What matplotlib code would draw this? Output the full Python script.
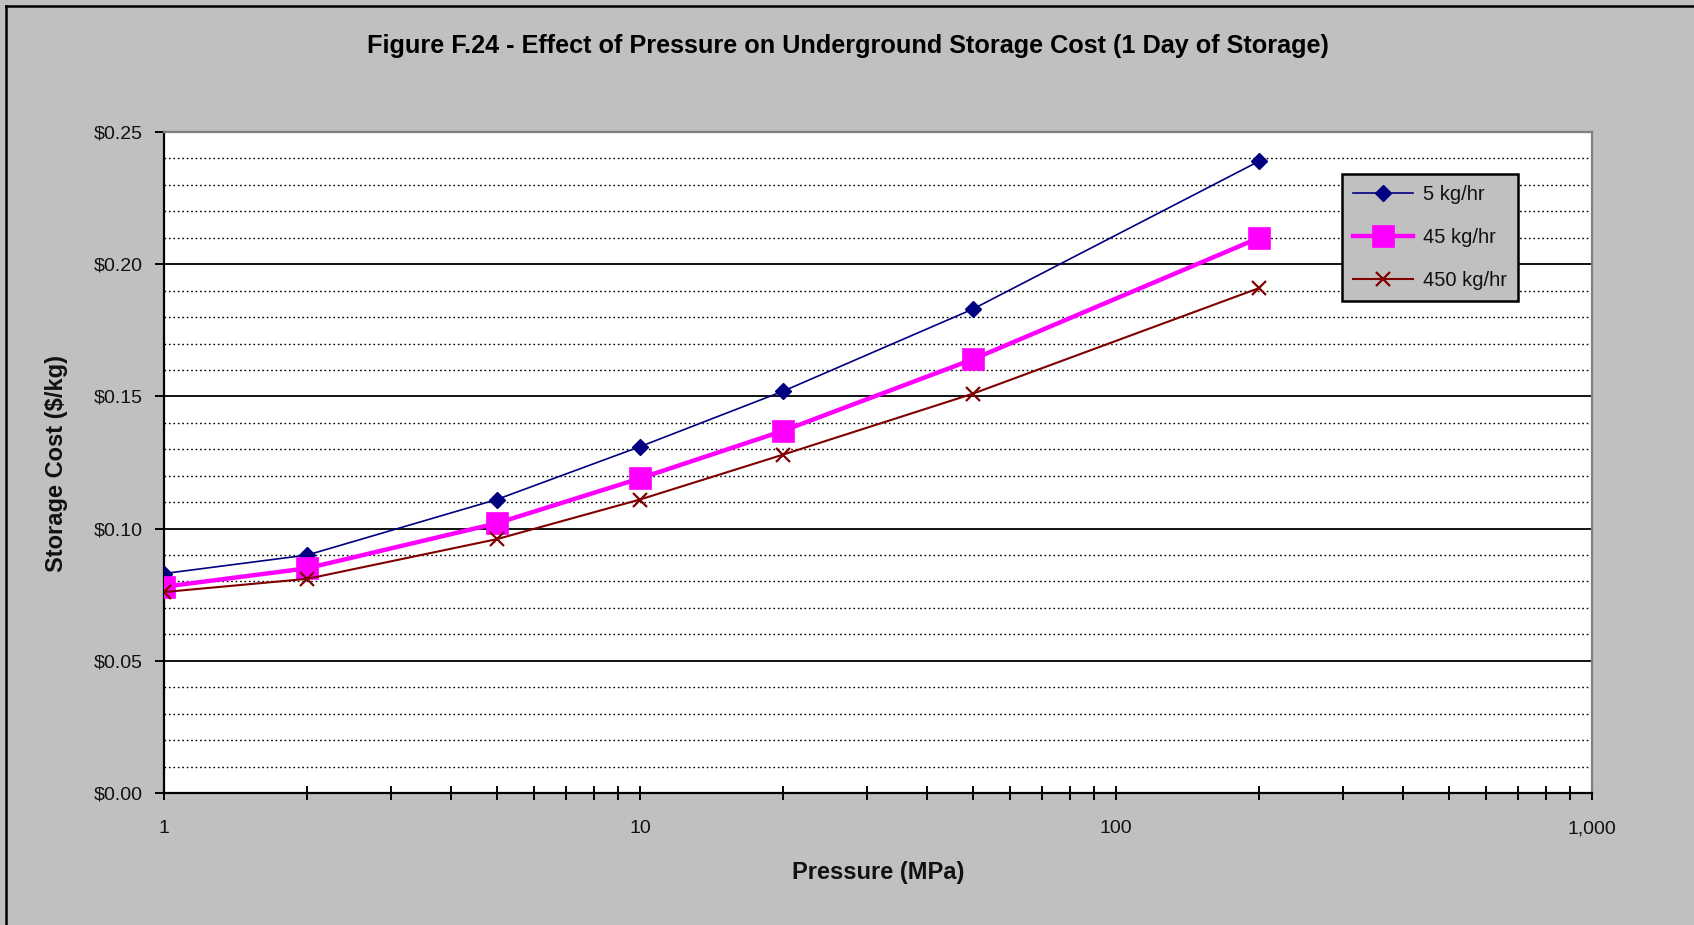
import matplotlib
matplotlib.use("Agg")
import matplotlib.pyplot as plt
from matplotlib.ticker import FixedLocator, MultipleLocator, FuncFormatter, NullFormatter, LogLocator
from matplotlib.lines import Line2D

plt.rcParams['font.family'] = ['Liberation Sans', 'DejaVu Sans']

# ---- data ----
pressure = [1, 2, 5, 10, 20, 50, 200]
cost_5 = [0.083, 0.090, 0.111, 0.131, 0.152, 0.183, 0.239]
cost_45 = [0.078, 0.085, 0.102, 0.119, 0.137, 0.164, 0.210]
cost_450 = [0.076, 0.081, 0.096, 0.111, 0.128, 0.151, 0.191]
series_labels = ["5 kg/hr", "45 kg/hr", "450 kg/hr"]
title = "Figure F.24 - Effect of Pressure on Underground Storage Cost (1 Day of Storage)"
xlabel = "Pressure (MPa)"
ylabel = "Storage Cost ($/kg)"
x_ticks = [1, 10, 100, 1000]
x_ticklabels = ["1", "10", "100", "1,000"]
y_ticks = [0.0, 0.05, 0.10, 0.15, 0.20, 0.25]

W, H = 1694, 925
BG = '#c0c0c0'
fig = plt.figure(figsize=(W / 100, H / 100), dpi=100, facecolor=BG)

L, R, T, B = 164, 1592, 132, 793
ax = fig.add_axes([L / W, 1 - B / H, (R - L) / W, (B - T) / H])
ax.set_facecolor('white')

ax.set_xscale('log')
ax.set_xlim(1, 1000)
ax.set_ylim(0, 0.25)

# grid
ax.yaxis.set_major_locator(FixedLocator(y_ticks))
ax.yaxis.set_minor_locator(MultipleLocator(0.01))
ax.grid(axis='y', which='major', color='black', linewidth=1.3, linestyle='-', zorder=1)
ax.grid(axis='y', which='minor', color='black', linewidth=1.0, linestyle=(0, (1.2, 2.0)), zorder=1)
ax.grid(axis='x', which='both', visible=False)
ax.set_axisbelow(True)

ax.plot(pressure, cost_5, color='#000080', linewidth=1.2, marker='D', markersize=8.5,
        markerfacecolor='#000080', markeredgecolor='#000080', label=series_labels[0], zorder=3)
ax.plot(pressure, cost_45, color='#ff00ff', linewidth=3.2, marker='s', markersize=16,
        markerfacecolor='#ff00ff', markeredgecolor='#ff00ff', markeredgewidth=0.5,
        label=series_labels[1], zorder=4)
ax.plot(pressure, cost_450, color='#800000', linewidth=1.5, marker='x', markersize=10,
        markeredgewidth=1.6, markeredgecolor='#800000', label=series_labels[2], zorder=5)

# ticks
ax.xaxis.set_major_locator(FixedLocator(x_ticks))
ax.xaxis.set_major_formatter(FuncFormatter(lambda v, p: x_ticklabels[x_ticks.index(round(v))] if round(v) in x_ticks else ""))
ax.xaxis.set_minor_locator(LogLocator(base=10, subs=range(2, 10), numticks=20))
ax.xaxis.set_minor_formatter(NullFormatter())
ax.yaxis.set_major_formatter(FuncFormatter(lambda v, p: f"${v:.2f}"))
ax.tick_params(axis='x', which='both', direction='inout', length=9.4, width=1.4, color='black',
               labelsize=14, pad=15, labelcolor='#111111')
ax.tick_params(axis='y', which='major', direction='out', length=6.3, width=1.4, color='black',
               labelsize=14, pad=9, labelcolor='#111111')
ax.tick_params(axis='y', which='minor', length=0)

for s in ['left', 'bottom']:
    ax.spines[s].set_color('black')
    ax.spines[s].set_linewidth(1.6)
for s in ['top', 'right']:
    ax.spines[s].set_color('#808080')
    ax.spines[s].set_linewidth(1.6)

# labels
fig.text(848 / W, 1 - 46 / H, title, ha='center', va='center', fontsize=18.2,
         fontweight='bold', color='black')
fig.text(878 / W, 1 - 873 / H, xlabel, ha='center', va='center', fontsize=17,
         fontweight='bold', color='#111111')
fig.text(56 / W, 1 - 464 / H, ylabel, ha='center', va='center', rotation=90,
         fontsize=17, fontweight='bold', color='#111111')

# legend
leg = ax.legend(loc='upper left', bbox_to_anchor=(1342 / W, 1 - 174 / H),
                bbox_transform=fig.transFigure, fontsize=14.5, frameon=True,
                fancybox=False, shadow=False, borderpad=0.55, labelspacing=1.2,
                handlelength=3.0, handletextpad=0.45, borderaxespad=0)
frame = leg.get_frame()
frame.set_facecolor(BG)
frame.set_edgecolor('black')
frame.set_linewidth(1.8)
frame.set_alpha(1)
for t in leg.get_texts():
    t.set_color('#111111')

# figure border (top and left)
fig.add_artist(Line2D([6 / W, 1], [1 - 6 / H, 1 - 6 / H], transform=fig.transFigure,
                      color='black', linewidth=1.8))
fig.add_artist(Line2D([6 / W, 6 / W], [0, 1 - 6 / H], transform=fig.transFigure,
                      color='black', linewidth=1.8))

fig.savefig('out.png', dpi=100, facecolor=BG)
